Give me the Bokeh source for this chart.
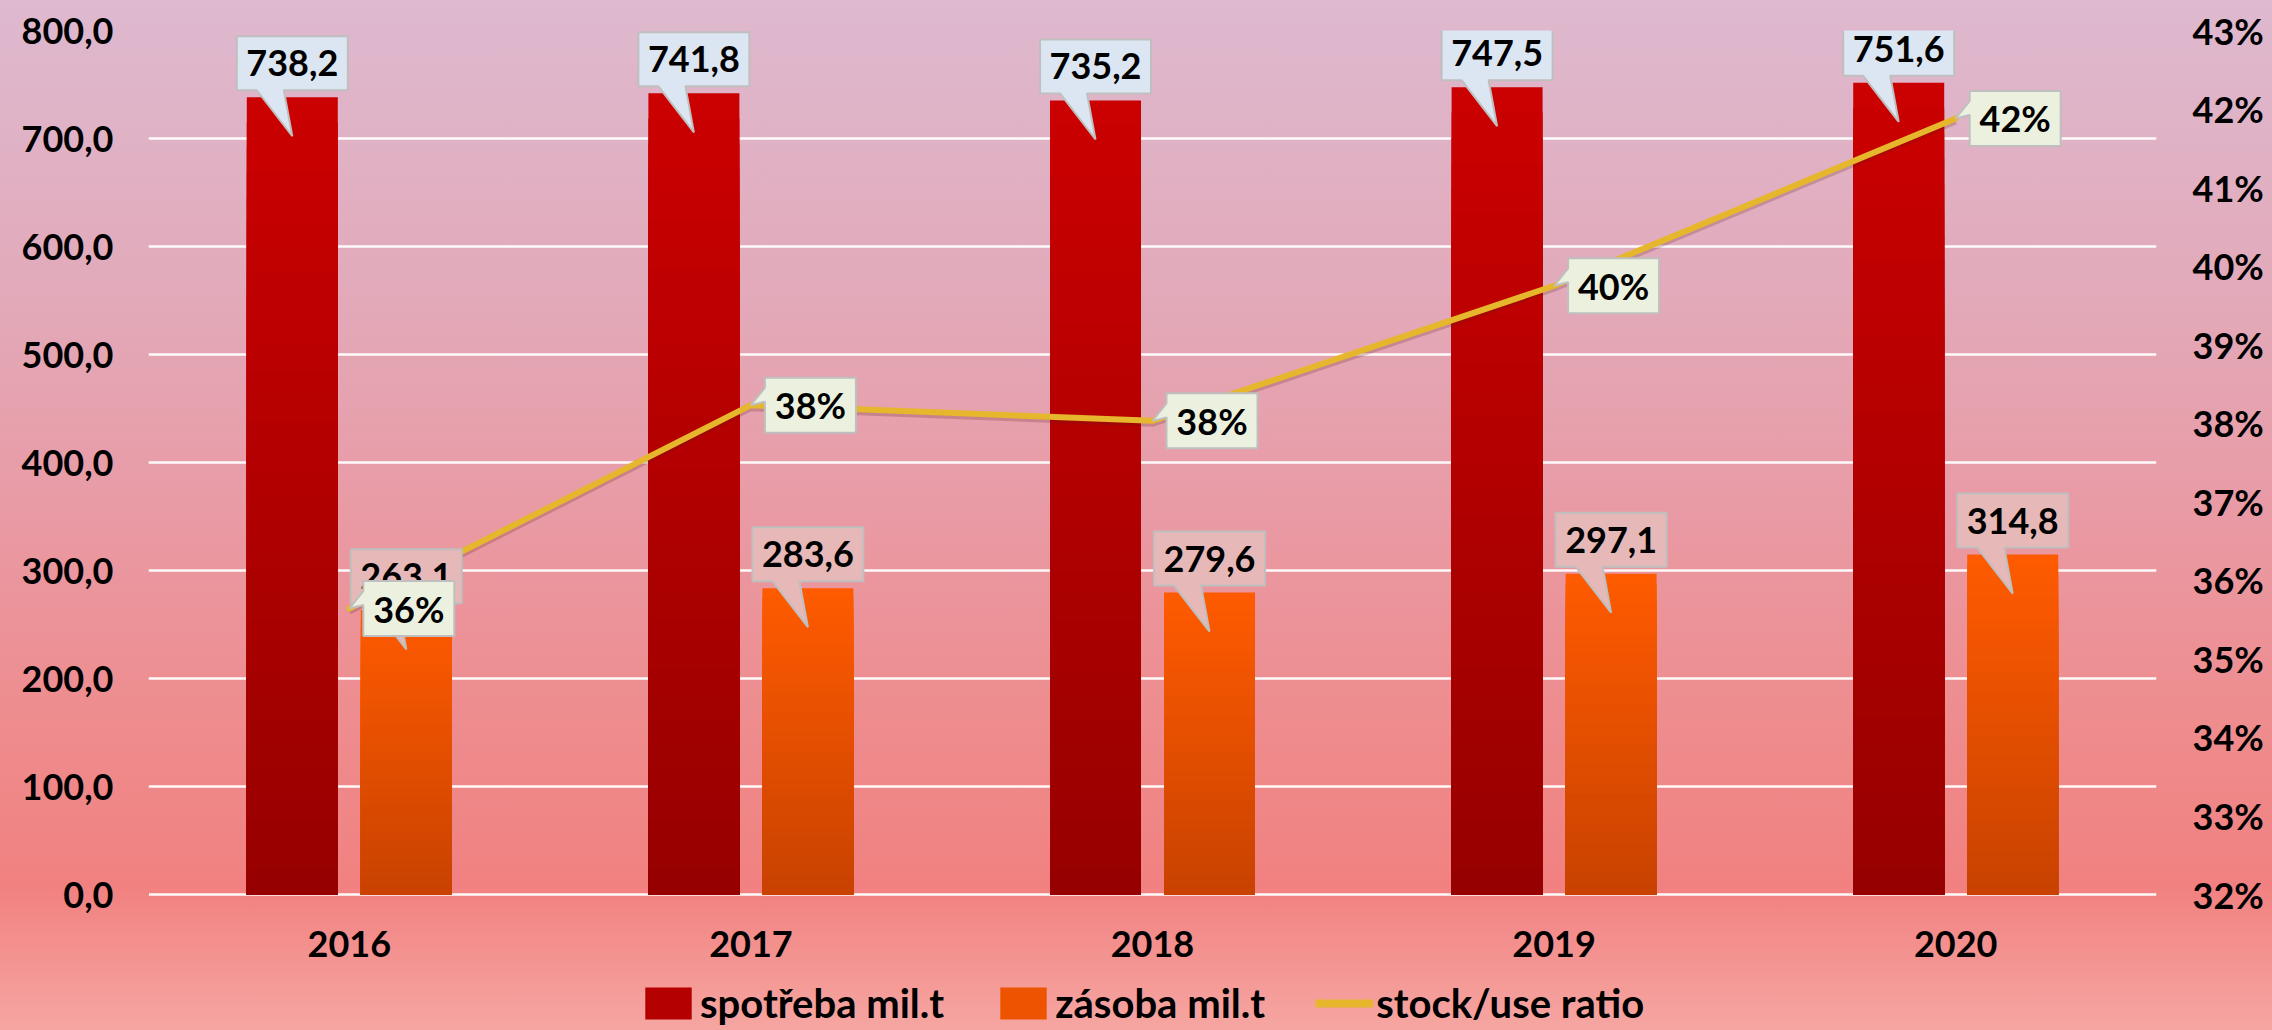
from bokeh.plotting import figure
from bokeh.models import (Range1d, LinearAxis, FixedTicker, Legend, LegendItem,
                          ColumnDataSource, GlobalInlineStyleSheet)
from bokeh.core.properties import value
from bokeh.embed import file_html
from bokeh.resources import INLINE

# ---------------- data ----------------
years = ["2016", "2017", "2018", "2019", "2020"]
spotreba = [738.2, 741.8, 735.2, 747.5, 751.6]
zasoba = [263.1, 283.6, 279.6, 297.1, 314.8]
ratio = [35.64, 38.23, 38.03, 39.75, 41.88]
spotreba_labels = ["738,2", "741,8", "735,2", "747,5", "751,6"]
zasoba_labels = ["263,1", "283,6", "279,6", "297,1", "314,8"]
ratio_labels = ["36%", "38%", "38%", "40%", "42%"]
series_names = ["spotřeba mil.t", "zásoba mil.t", "stock/use ratio"]
left_ticks = [0, 100, 200, 300, 400, 500, 600, 700, 800]
left_tick_labels = ["0,0", "100,0", "200,0", "300,0", "400,0", "500,0", "600,0", "700,0", "800,0"]
right_ticks = [32, 33, 34, 35, 36, 37, 38, 39, 40, 41, 42, 43]
right_tick_labels = ["32%", "33%", "34%", "35%", "36%", "37%", "38%", "39%", "40%", "41%", "42%", "43%"]

# ---------------- layout ----------------
W, H = 2272, 1030
BL, BR, BT = 148, 116, 30
AXIS_BOTTOM = 136            # px between the value-axis zero line and the picture bottom
FW, FH = W - BL - BR, H - BT
PLOT_H = FH - AXIS_BOTTOM    # px from zero line to top gridline
X0, X1 = 0, 5
Y1 = 800
Y0 = -AXIS_BOTTOM * Y1 / PLOT_H
R_LO, R1 = 32, 43
R0 = R_LO - AXIS_BOTTOM * (R1 - R_LO) / PLOT_H
px_x = (X1 - X0) / FW
px_y = (Y1 - Y0) / FH
px_r = (R1 - R0) / FH

FONT = value("Lato")

p = figure(width=W, height=H, output_backend="svg", toolbar_location=None,
           x_range=Range1d(X0, X1), y_range=Range1d(Y0, Y1),
           min_border_left=BL, min_border_right=BR, min_border_top=BT, min_border_bottom=0)
p.extra_y_ranges = {"right": Range1d(R0, R1)}
p.background_fill_color = None
p.border_fill_color = None
p.outline_line_color = None

grad = ("linear-gradient(to bottom, #DEB9CF 0%, #E2AABA 28%, #E99AA4 50%, #EE8C8E 70%, "
        "#F18180 86%, #F6A6A2 100%)")
p.stylesheets = [GlobalInlineStyleSheet(css="html { background: %s; min-height: 100%%; } body { background: transparent; }" % grad)]

# ---------------- axes ----------------
def style_axis(ax):
    ax.axis_line_color = None
    ax.major_tick_line_color = None
    ax.minor_tick_line_color = None
    ax.major_tick_out = 0
    ax.major_tick_in = 0
    ax.minor_tick_out = 0
    ax.minor_tick_in = 0
    ax.major_label_text_font = "Lato"
    ax.major_label_text_font_style = "bold"
    ax.major_label_text_font_size = "36px"
    ax.major_label_text_color = "black"

xc = [i + 0.5 for i in range(len(years))]
p.xaxis.ticker = FixedTicker(ticks=xc)
p.xaxis.major_label_overrides = {x: y for x, y in zip(xc, years)}
style_axis(p.xaxis[0])
p.xaxis.fixed_location = 0
p.xaxis.major_label_standoff = 36

p.yaxis.ticker = FixedTicker(ticks=left_ticks)
p.yaxis.major_label_overrides = {t: l for t, l in zip(left_ticks, left_tick_labels)}
style_axis(p.yaxis[0])
p.yaxis.major_label_standoff = 35

rax = LinearAxis(y_range_name="right", ticker=FixedTicker(ticks=right_ticks),
                 major_label_overrides={t: l for t, l in zip(right_ticks, right_tick_labels)})
style_axis(rax)
rax.major_label_standoff = 36
p.add_layout(rax, "right")

p.xgrid.visible = False
p.ygrid.grid_line_color = "white"
p.ygrid.grid_line_width = 2.5
p.ygrid.grid_line_alpha = 0.95

# ---------------- gradient bars ----------------
N = 32
def mix(c1, c2, t):
    return "#%02x%02x%02x" % tuple(int(round(a + (b - a) * t)) for a, b in zip(c1, c2))

bw = 91 * px_x
off = 57 * px_x

def gradient_bars(xs, vals, top_col, bot_col):
    d = dict(x=[], top=[], color=[])
    for k in range(N):
        frac = 1 - k / N
        pos = frac - 0.5 / N
        col = mix(bot_col, top_col, pos)
        for x, v in zip(xs, vals):
            d["x"].append(x)
            d["top"].append(v * frac)
            d["color"].append(col)
    p.vbar(x="x", top="top", width=bw, bottom=0, fill_color="color", line_color=None,
           source=ColumnDataSource(d))

red_x = [x - off for x in xc]
org_x = [x + off for x in xc]
gradient_bars(red_x, spotreba, (204, 0, 0), (150, 0, 0))
gradient_bars(org_x, zasoba, (255, 91, 0), (200, 66, 0))

# ---------------- line ----------------
p.line(xc, [r - 3 * px_r for r in ratio], y_range_name="right",
       line_color="#5a1a1a", line_alpha=0.22, line_width=6, line_join="round")
p.line(xc, ratio, y_range_name="right", line_color="#E6B62C", line_width=6,
       line_join="round", line_cap="round")

# ---------------- value callouts ----------------
def value_callouts(xs, vals, labels, fill):
    pxs, pys, tx, ty = [], [], [], []
    for cx, v in zip(xs, vals):
        half = 55.5 * px_x
        x0, x1 = cx - half, cx + half
        b = v + 7 * px_y
        t = b + 54 * px_y
        tip = v - 39 * px_y
        pxs.append([x0, x0 + 20 * px_x, cx, x0 + 47 * px_x, x1, x1, x0])
        pys.append([b, b, tip, b, b, t, t])
        tx.append(cx)
        ty.append(b + 27 * px_y)
    p.patches(pxs, pys, fill_color=fill, line_color="#BFBFBF", line_width=2)
    p.text(tx, ty, text=labels, text_font=FONT, text_font_style="bold",
           text_font_size="36px", text_align="center", text_baseline="middle",
           text_color="black")

value_callouts(red_x, spotreba, spotreba_labels, "#DCE6F2")
value_callouts(org_x, zasoba, zasoba_labels, "#E6B9B8")

# ---------------- ratio callouts ----------------
pxs, pys, tx, ty = [], [], [], []
for cx, r in zip(xc, ratio):
    x0 = cx + 14 * px_x
    x1 = x0 + 91 * px_x
    t = r + 27.5 * px_r
    b = r - 27.5 * px_r
    pxs.append([x0, x1, x1, x0, x0, cx, x0])
    pys.append([t, t, b, b, t - 24 * px_r, r, t - 10 * px_r])
    tx.append(x0 + 45.5 * px_x)
    ty.append(r)
p.patches(pxs, pys, fill_color="#EBF1DE", line_color="#BFBFBF", line_width=2,
          y_range_name="right")
p.text(tx, ty, text=ratio_labels, y_range_name="right", text_font=FONT,
       text_font_style="bold", text_font_size="36px", text_align="center",
       text_baseline="middle", text_color="black")

# ---------------- legend (proxy renderers placed outside the visible x range) ----------------
lr1 = p.vbar(x=[X0 - 1], top=[1], width=0.1, fill_color="#B40000", line_color=None)
lr2 = p.vbar(x=[X0 - 1], top=[1], width=0.1, fill_color="#EE5400", line_color=None)
lr3 = p.line(x=[X0 - 2, X0 - 1], y=[0, 0], line_color="#E6B62C", line_width=8)
legend = Legend(items=[LegendItem(label=series_names[0], renderers=[lr1]),
                       LegendItem(label=series_names[1], renderers=[lr2]),
                       LegendItem(label=series_names[2], renderers=[lr3])],
                orientation="horizontal", location=(491, 3),
                glyph_width=58, glyph_height=40, label_standoff=3, spacing=50,
                padding=0, margin=0, background_fill_alpha=0, border_line_alpha=0,
                label_text_font="Lato", label_text_font_style="bold",
                label_text_font_size="40px", label_text_color="black")
p.add_layout(legend)

open("out.html", "w").write(file_html(p, INLINE))
